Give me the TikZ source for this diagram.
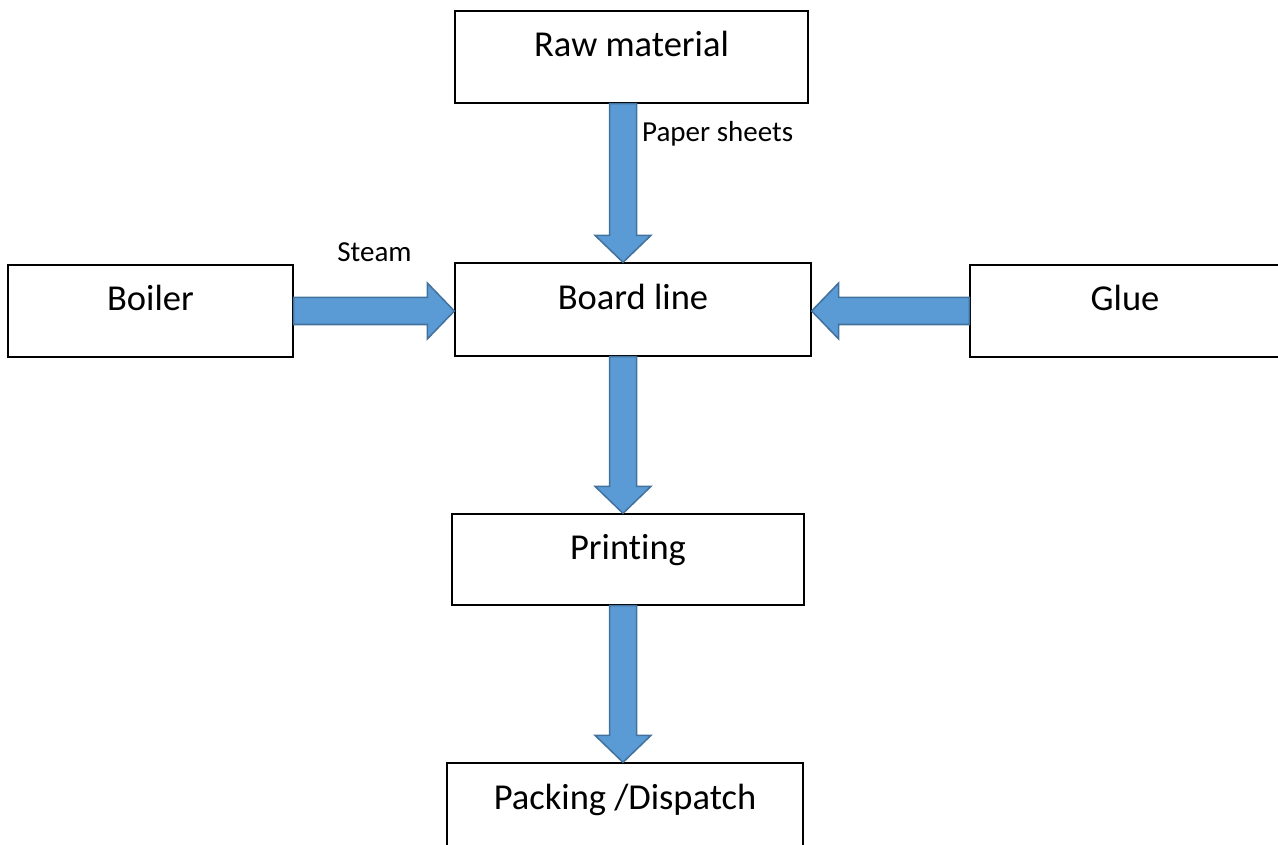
\documentclass[tikz,border=0pt]{standalone}
\usepackage{fontspec}
\setmainfont[Ligatures=NoCommon]{Carlito}
\usetikzlibrary{calc}
\definecolor{arrowfill}{HTML}{5B9BD5}
\definecolor{arrowline}{HTML}{41719C}
\tikzset{
	box/.style={draw, line width=1.3pt, minimum width=#1, minimum height=92pt, inner sep=0pt,
		text height=30pt, text depth=30pt, font=\fontsize{36.5}{44}\selectfont},
	flow/.style={fill=arrowfill, draw=arrowline, line width=1.5pt, line join=miter},
	tag/.style={font=\fontsize{29}{35}\selectfont, inner sep=0pt}
}
% block arrow from #1 to #2
\newcommand\flowarrow[2]{%
	\path ($(#2)!\headlen!(#1)$) coordinate (fa-h);
	\draw[flow] ($(#1)!\shaftw!90:(#2)$) -- ($(fa-h)!\shaftw!90:(#2)$) -- ($(fa-h)!\headw!90:(#2)$)
		-- (#2) -- ($(fa-h)!\headw!-90:(#2)$) -- ($(fa-h)!\shaftw!-90:(#2)$) -- ($(#1)!\shaftw!-90:(#2)$) -- cycle;}
\begin{document}
\begin{tikzpicture}[x=1pt, y=-1pt]
	\useasboundingbox (0,0) rectangle (1278,845);
	\clip (0,0) rectangle (1278,845);
	\def\shaftw{13.5pt}
	\def\headw{28pt}
	\def\headlen{27pt}
	
	%Boxes
	\node[box=353pt] (raw) at (631.5,57) {Raw material};
	\node[box=285pt] (boiler) at (150.5,311) {Boiler};
	\node[box=356pt, minimum height=93pt] (board) at (633,309.5) {Board line};
	\node[box=310pt] (glue) at (1125,311) {Glue};
	\node[box=352pt, minimum height=91pt] (print) at (628,559.5) {Printing};
	\node[box=356pt] (pack) at (625,809) {Packing /Dispatch};
	
	%Arrows
	\coordinate (axis) at (623,0);
	\flowarrow{raw.south -| axis}{board.north -| axis}
	\flowarrow{boiler.east}{board.west |- boiler.east}
	\flowarrow{glue.west}{board.east |- glue.west}
	\flowarrow{board.south -| axis}{print.north -| axis}
	\flowarrow{print.south -| axis}{pack.north -| axis}
	
	%Labels
	\node[tag, anchor=base west] (paper) at (642,142) {Paper sheets};
	\node[tag, anchor=base] (steam) at (374.5,262) {Steam};
\end{tikzpicture}
\end{document}
